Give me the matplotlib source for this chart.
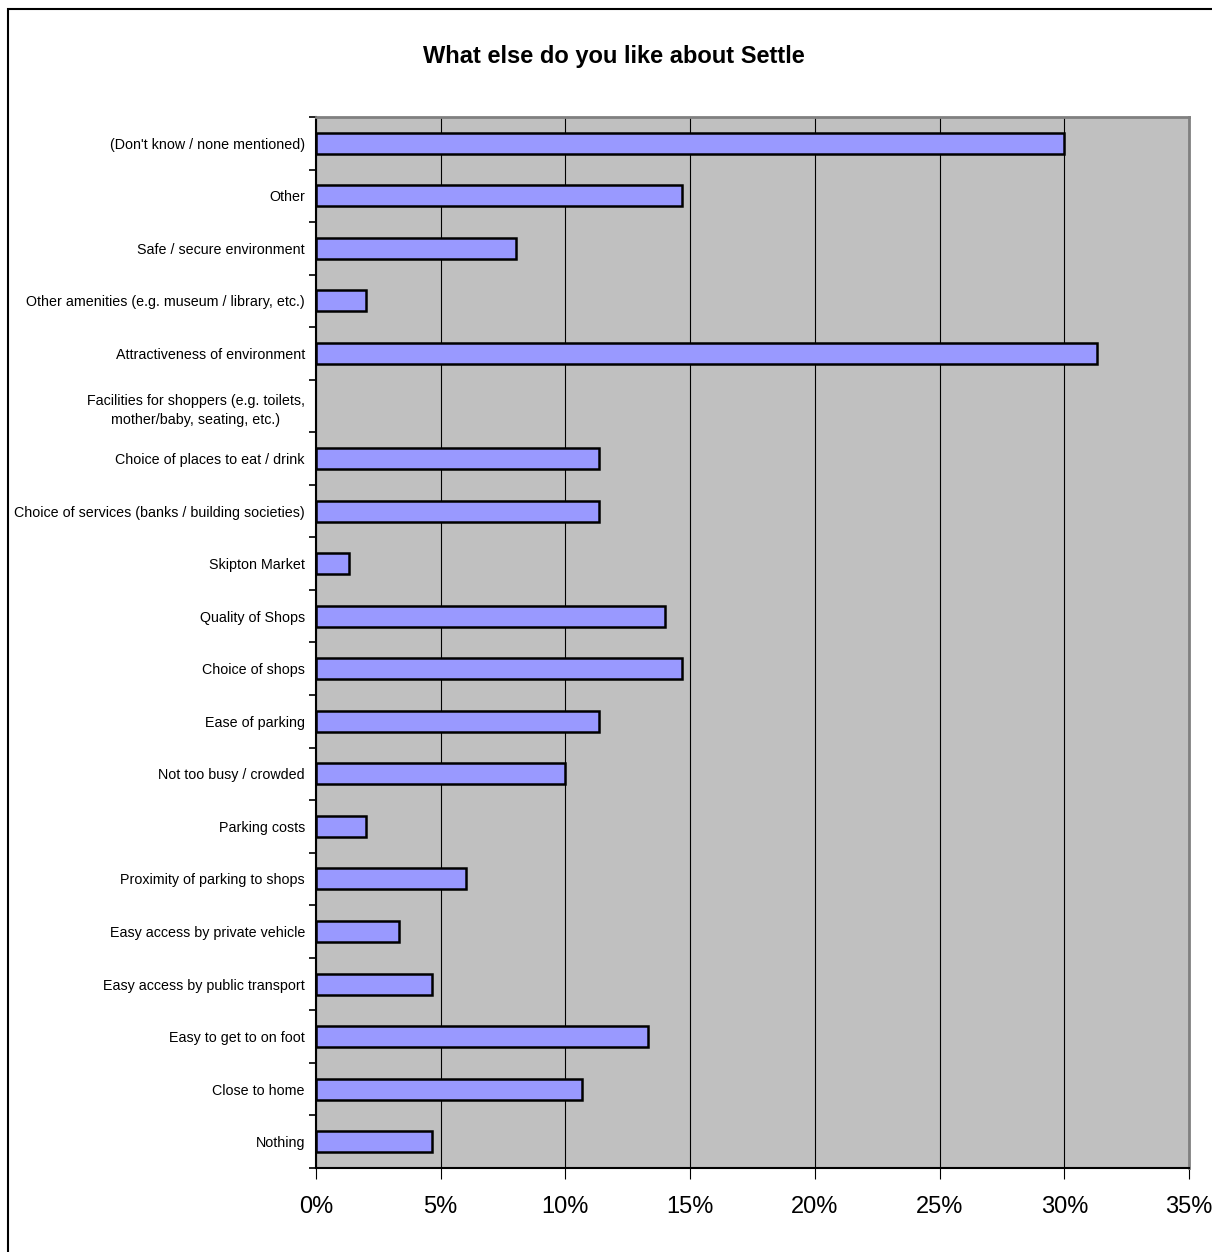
import matplotlib
matplotlib.use("Agg")
import matplotlib.pyplot as plt
from matplotlib.ticker import FixedLocator, FuncFormatter
from matplotlib.patches import Rectangle

categories = [
    "(Don't know / none mentioned)",
    "Other",
    "Safe / secure environment",
    "Other amenities (e.g. museum / library, etc.)",
    "Attractiveness of environment",
    "Facilities for shoppers (e.g. toilets,\nmother/baby, seating, etc.)",
    "Choice of places to eat / drink",
    "Choice of services (banks / building societies)",
    "Skipton Market",
    "Quality of Shops",
    "Choice of shops",
    "Ease of parking",
    "Not too busy / crowded",
    "Parking costs",
    "Proximity of parking to shops",
    "Easy access by private vehicle",
    "Easy access by public transport",
    "Easy to get to on foot",
    "Close to home",
    "Nothing",
]
values = [30.0, 14.67, 8.0, 2.0, 31.33, 0.0, 11.33, 11.33, 1.33, 14.0,
          14.67, 11.33, 10.0, 2.0, 6.0, 3.33, 4.67, 13.33, 10.67, 4.67]
xticks = [0, 5, 10, 15, 20, 25, 30, 35]
title = "What else do you like about Settle"

plt.rcParams['font.family'] = ['Liberation Sans', 'DejaVu Sans']

fig = plt.figure(figsize=(12.12, 12.52), dpi=100)
fig.patches.append(Rectangle((8/1212, -0.2), 1.2, 1.2 - 9/1252, transform=fig.transFigure,
                             fill=False, edgecolor='black', linewidth=1.5, zorder=10))

ax = fig.add_axes([316/1212, 84/1252, 873/1212, 1051/1252])
ax.set_facecolor('#C0C0C0')

n = len(categories)
ypos = list(range(n))
lws = [1.8 if v > 0 else 0 for v in values]
ax.barh(ypos, values, height=0.4, color='#9999FF', edgecolor='black', linewidth=lws, zorder=3)

ax.set_xlim(0, 35)
ax.set_ylim(n - 0.5, -0.5)
ax.xaxis.set_major_locator(FixedLocator(xticks))
ax.xaxis.set_major_formatter(FuncFormatter(lambda v, p: f"{int(round(v))}%"))
ax.grid(axis='x', color='black', linewidth=0.8, zorder=1)
ax.tick_params(axis='x', direction='out', length=8, width=0.8, labelsize=17, pad=12, colors='black')

ax.set_yticks(ypos)
ax.set_yticklabels(categories, fontsize=10.3, multialignment='center', linespacing=1.5)
ax.yaxis.set_minor_locator(FixedLocator([i - 0.5 for i in range(n + 1)]))
ax.tick_params(axis='y', which='major', length=0, pad=8)
ax.tick_params(axis='y', which='minor', direction='out', length=5, width=1.2)

for s in ['top', 'right']:
    ax.spines[s].set_color('#808080')
    ax.spines[s].set_linewidth(2)
for s in ['bottom', 'left']:
    ax.spines[s].set_color('black')
    ax.spines[s].set_linewidth(1.5)

fig.text(614/1212, 1 - 56/1252, title, ha='center', va='center', fontsize=17,
         fontweight='bold')

fig.savefig('out.png', dpi=100)
